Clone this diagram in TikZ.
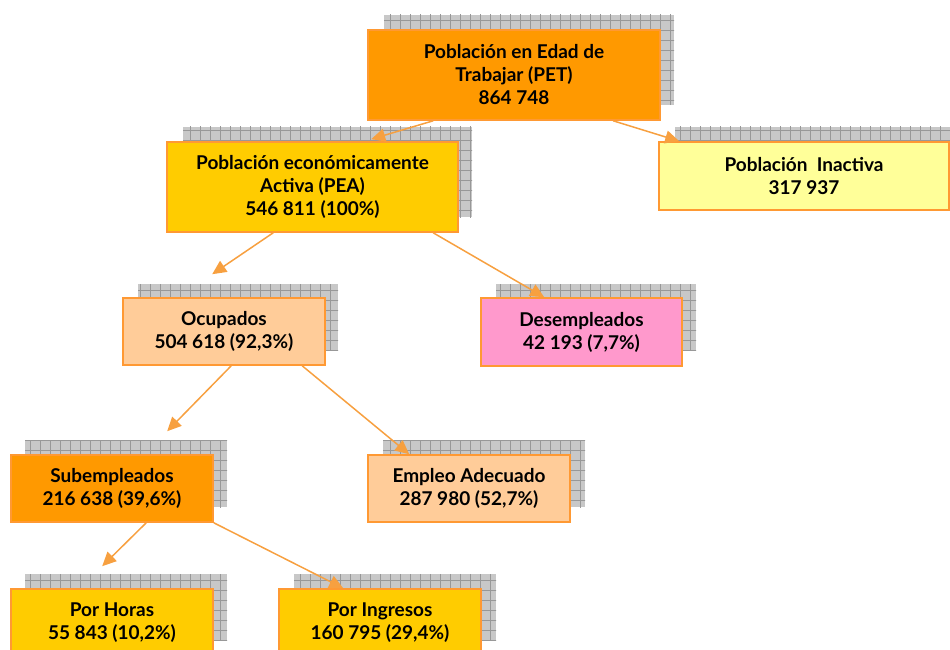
\documentclass[tikz,border=0pt]{standalone}
\usepackage{fontspec}
\setmainfont{Lato}
\usetikzlibrary{arrows.meta,calc}
\definecolor{bord}{HTML}{FF9933}
\definecolor{arr}{HTML}{F7A040}
\definecolor{cPET}{HTML}{FF9900}
\definecolor{cPEA}{HTML}{FFCC00}
\definecolor{cINA}{HTML}{FFFF99}
\definecolor{cOCU}{HTML}{FFCC99}
\definecolor{cDES}{HTML}{FF99CC}
\definecolor{shfill}{HTML}{C8C8C8}
\definecolor{shline}{HTML}{989898}
\newcommand{\shbox}[4]{%
  \begin{scope}
    \clip (#1,#2) rectangle (#3,#4);
    \fill[shfill] (#1,#2) rectangle (#3,#4);
    \draw[shline,line width=0.6pt,step=10pt] (#1-10,#2-10) grid (#3+10,#4+10);
  \end{scope}}
\tikzset{
  box/.style={draw=bord,line width=1.6pt,align=center,inner sep=0pt,
    font=\fontsize{19}{23}\selectfont\bfseries,text=black},
  conn/.style={arr,line width=1.5pt,-{Triangle[length=14pt,width=13pt]}}
}
\begin{document}
\begin{tikzpicture}[x=1pt,y=-1pt]
\useasboundingbox (0,0) rectangle (950,650);
% shadows
\shbox{384}{15}{674}{105}
\shbox{183}{127}{472}{217}
\shbox{675}{127}{962}{195}
\shbox{138}{284}{338}{350}
\shbox{496}{284}{696}{350}
\shbox{25}{440}{227}{507}
\shbox{383}{440}{585}{507}
\shbox{25}{574}{227}{640}
\shbox{294}{574}{496}{640}
% boxes
\node[box,fill=cPET,minimum width=292,minimum height=90] (pet) at (514,75) {Población en Edad de\\Trabajar (PET)\\864 748};
\node[box,fill=cPEA,minimum width=291,minimum height=90] (pea) at (312.5,187) {Población económicamente\\Activa (PEA)\\546 811 (100\%)};
\node[box,fill=cINA,minimum width=290,minimum height=68] (ina) at (804,176) {Población~~Inactiva\\317 937};
\node[box,fill=cOCU,minimum width=202,minimum height=67] (ocu) at (224,331.5) {Ocupados\\504 618 (92,3\%)};
\node[box,fill=cDES,minimum width=201,minimum height=68] (des) at (581.5,332) {Desempleados\\42 193 (7,7\%)};
\node[box,fill=cPET,minimum width=202,minimum height=67] (sub) at (112,488.5) {Subempleados\\216 638 (39,6\%)};
\node[box,fill=cOCU,minimum width=202,minimum height=67] (ade) at (469,488.5) {Empleo Adecuado\\287 980 (52,7\%)};
\node[box,fill=cPEA,minimum width=202,minimum height=67] (hor) at (112,622.5) {Por Horas\\55 843 (10,2\%)};
\node[box,fill=cPEA,minimum width=202,minimum height=67] (ing) at (380,622.5) {Por Ingresos\\160 795 (29,4\%)};
% connectors
\draw[conn] ([xshift=66pt]pet.south west) -- ([xshift=205pt,yshift=2pt]pea.north west);
\draw[conn] ([xshift=246pt]pet.south west) -- ([xshift=21pt]ina.north west);
\draw[conn] ([xshift=107pt]pea.south west) -- ([xshift=90pt,yshift=23pt]ocu.north west);
\draw[conn] ([xshift=267pt]pea.south west) -- ([xshift=64pt]des.north west);
\draw[conn] ([xshift=109pt]ocu.south west) -- ([xshift=157pt,yshift=23pt]sub.north west);
\draw[conn] ([xshift=180pt]ocu.south west) -- ([xshift=42pt]ade.north west);
\draw[conn] ([xshift=136pt]sub.south west) -- ([xshift=92pt,yshift=22pt]hor.north west);
\draw[conn] (sub.south east) -- ([xshift=65pt]ing.north west);
\end{tikzpicture}
\end{document}
